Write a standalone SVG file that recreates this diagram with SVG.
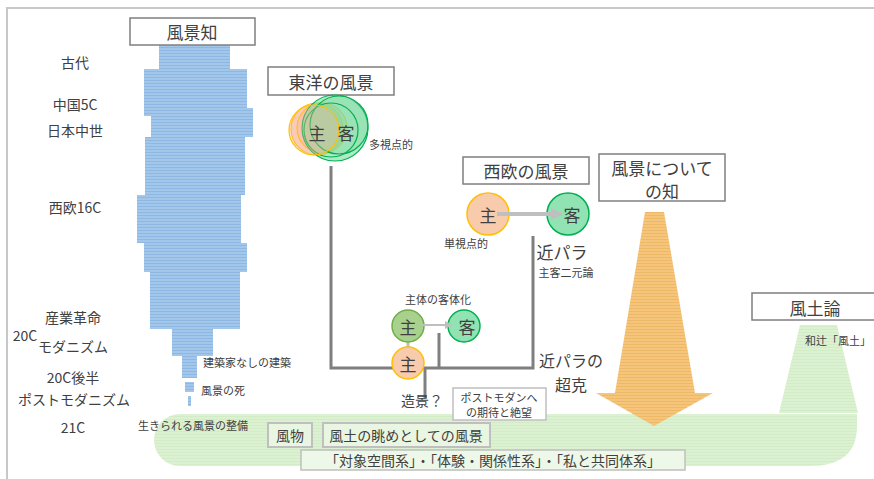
<svg xmlns="http://www.w3.org/2000/svg" width="874" height="479" viewBox="0 0 874 479">
<defs>
<pattern id="blue" width="4" height="3" patternUnits="userSpaceOnUse">
<rect width="4" height="3" fill="#a3c7eb"/>
<rect y="2" width="4" height="1" fill="#8db8e3"/>
</pattern>
<pattern id="green" width="4" height="3" patternUnits="userSpaceOnUse">
<rect width="4" height="3" fill="#dcf1d2"/>
<rect y="2" width="4" height="1" fill="#d2ecc6"/>
</pattern>
<pattern id="orange" width="4" height="3" patternUnits="userSpaceOnUse">
<rect width="4" height="3" fill="#f4c57b"/>
<rect y="2" width="4" height="1" fill="#eeb866"/>
</pattern>
<marker id="ah" viewBox="0 0 10 10" refX="9" refY="5" markerWidth="3" markerHeight="3" orient="auto">
<path d="M0,0 L10,5 L0,10 Z" fill="#bfbfbf"/>
</marker>
<marker id="ah2" viewBox="0 0 10 10" refX="9" refY="5" markerWidth="4" markerHeight="4" orient="auto">
<path d="M0,0 L10,5 L0,10 Z" fill="#bfbfbf"/>
</marker>
</defs>
<style>
text{font-family:"Noto Sans CJK JP","Noto Sans",sans-serif;fill:#404040;text-anchor:middle;dominant-baseline:central}
.box{fill:#fff;stroke:#7f7f7f;stroke-width:1.5}
.sbox{fill:#e9f6e2;stroke:#bfbfbf;stroke-width:2}
.t17{font-size:17px}
.t16{font-size:16px}
.t14{font-size:14px}
.t11{font-size:11px}
.ln{stroke:#7f7f7f;stroke-width:3;fill:none}
.lg{stroke:#bfbfbf;fill:none}
</style>
<rect width="874" height="479" fill="#fff"/>
<path d="M7 479 V8 H874" fill="none" stroke="#c8c8c8" stroke-width="2"/>

<g id="bands">
<path d="M800 325 H837 L858 413 H779 Z" fill="url(#green)"/>
<path d="M180 414 H857 V426 Q857 466 810 466 H180 A26 26 0 0 1 180 414 Z" fill="url(#green)"/>
<path d="M645 212 H664 L695 393 H713 L654 426 L596 393 H615 Z" fill="url(#orange)"/>
</g>

<g id="history-bars" fill="url(#blue)">
<rect x="159" y="45" width="71" height="24"/>
<rect x="144" y="69" width="103" height="47"/>
<rect x="151" y="108" width="102" height="29"/>
<rect x="145" y="137" width="100" height="58"/>
<rect x="137" y="195" width="104" height="48"/>
<rect x="144" y="243" width="103" height="29"/>
<rect x="150" y="272" width="90" height="57"/>
<rect x="172" y="329" width="41" height="27"/>
<rect x="182" y="356" width="15" height="22"/>
<rect x="185" y="382" width="9" height="10"/>
<rect x="188" y="396" width="3" height="10"/>
</g>

<g id="connectors">
<path class="ln" d="M331 166 V368 H533 V236"/>
<path class="ln" d="M439 333 V368"/>
<path class="ln" d="M425 368 V398"/>
<path class="lg" stroke-width="3" d="M408 341 V349"/>
</g>

<g id="node-fukeichi">
<rect class="box" x="130" y="18" width="125" height="27"/>
<text class="t17" x="192" y="31">風景知</text>
</g>

<g id="era-labels">
<text class="t14" x="75" y="62">古代</text>
<text class="t14" x="75" y="104">中国5C</text>
<text class="t14" x="75" y="130">日本中世</text>
<text class="t14" x="75" y="207">西欧16C</text>
<text class="t14" x="73" y="317">産業革命</text>
<text class="t14" x="25" y="335">20C</text>
<text class="t14" x="73" y="346">モダニズム</text>
<text class="t14" x="73" y="377">20C後半</text>
<text class="t14" x="74" y="399">ポストモダニズム</text>
<text class="t14" x="73" y="427">21C</text>
<text class="t11" x="247" y="362">建築家なしの建築</text>
<text class="t11" x="223" y="390">風景の死</text>
<text class="t11" x="193" y="425">生きられる風景の整備</text>
</g>

<g id="node-toyo">
<rect class="box" x="268" y="67" width="126" height="28"/>
<text class="t17" x="331" y="81">東洋の風景</text>
<g stroke-width="1.2">
<circle cx="317" cy="129" r="26" fill="#f8b89a" fill-opacity="0.55" stroke="#ffc000"/>
<circle cx="322" cy="128" r="25" fill="#f8b89a" fill-opacity="0.45" stroke="#ffc000"/>
<circle cx="335" cy="128" r="33" fill="#7bdaa0" fill-opacity="0.6" stroke="#00b050"/>
<circle cx="339" cy="125" r="29" fill="#7bdaa0" fill-opacity="0.4" stroke="#00b050"/>
<circle cx="331" cy="130" r="27" fill="none" stroke="#00b050"/>
<circle cx="314" cy="130" r="25" fill="#f8b89a" fill-opacity="0.35" stroke="#ffc000"/>
</g>
<text class="t17" x="317" y="132">主</text>
<text class="t17" x="346" y="132">客</text>
<text class="t11" x="391" y="144">多視点的</text>
</g>

<g id="node-seio">
<rect class="box" x="463" y="157" width="126" height="27"/>
<text class="t17" x="526" y="170">西欧の風景</text>
<circle cx="488" cy="214" r="21" fill="#f8cbad" stroke="#ffc000" stroke-width="1.5"/>
<circle cx="568" cy="214" r="21" fill="#92e3b3" stroke="#00b050" stroke-width="1.5"/>
<text class="t17" x="488" y="214">主</text>
<text class="t17" x="572" y="214">客</text>
<line class="lg" stroke-width="4" x1="497" y1="214" x2="562" y2="214" marker-end="url(#ah)"/>
<text class="t11" x="466" y="243">単視点的</text>
<text class="t17" x="562" y="251">近パラ</text>
<text class="t11" x="566" y="272">主客二元論</text>
</g>

<g id="node-shutai">
<text class="t11" x="438" y="299">主体の客体化</text>
<circle cx="408" cy="326" r="16" fill="#a9d18e" stroke="#70ad47" stroke-width="1.5"/>
<circle cx="464" cy="326" r="16" fill="#92e3b3" stroke="#00b050" stroke-width="1.5"/>
<circle cx="408" cy="363" r="16" fill="#f8cbad" stroke="#ffc000" stroke-width="1.5"/>
<text class="t17" x="408" y="326">主</text>
<text class="t17" x="467" y="326">客</text>
<text class="t17" x="408" y="363">主</text>
<line class="lg" stroke-width="2" x1="420" y1="325" x2="452" y2="325" marker-end="url(#ah2)"/>
<text class="t14" x="422" y="400">造景？</text>
<rect x="453" y="388" width="93" height="32" fill="#fff" stroke="#bfbfbf" stroke-width="1.5"/>
<text class="t11" x="499" y="397">ポストモダンへ</text>
<text class="t11" x="499" y="412">の期待と絶望</text>
<text class="t16" x="571" y="360">近パラの</text>
<text class="t16" x="571" y="384">超克</text>
</g>

<g id="node-chi">
<rect class="box" x="599" y="154" width="126" height="47"/>
<text class="t17" x="662" y="167">風景について</text>
<text class="t17" x="662" y="190">の知</text>
</g>

<g id="node-fudoron">
<rect class="box" x="752" y="293" width="130" height="27"/>
<text class="t17" x="815" y="307">風土論</text>
<text class="t11" x="838" y="340">和辻「風土」</text>
</g>

<g id="node-bottom">
<rect class="sbox" x="268" y="423" width="44" height="24"/>
<text class="t14" x="290" y="435">風物</text>
<rect class="sbox" x="323" y="423" width="167" height="24"/>
<text class="t14" x="406" y="435">風土の眺めとしての風景</text>
<rect x="301" y="450" width="384" height="20" fill="#eef8e8" stroke="#bfbfbf" stroke-width="1.5"/>
<text class="t14" x="493" y="460">「対象空間系」・「体験・関係性系」・「私と共同体系」</text>
</g>
</svg>
